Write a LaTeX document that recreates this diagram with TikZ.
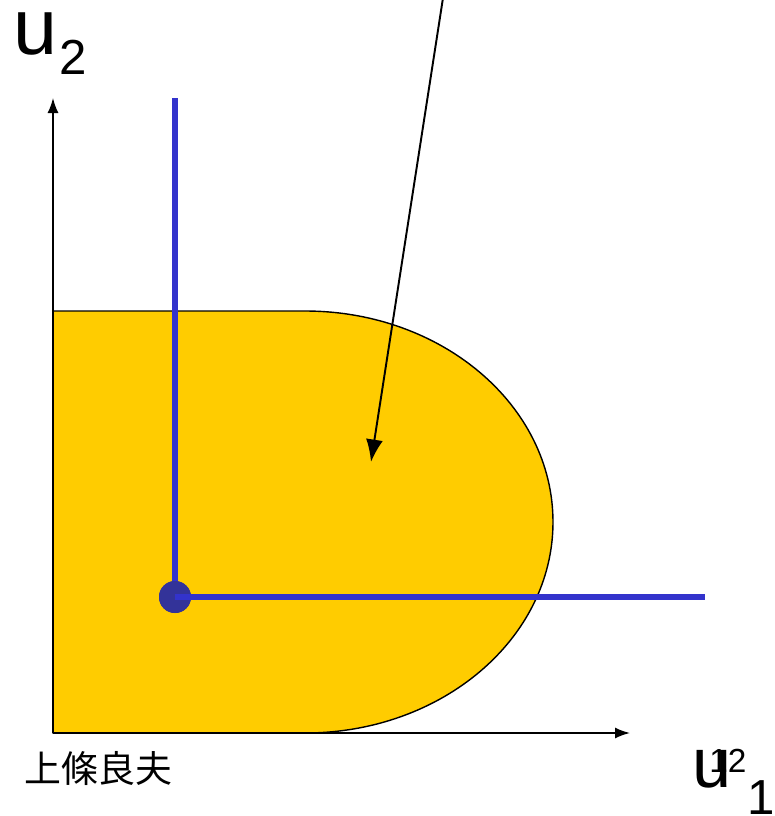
\documentclass[tikz,border=0pt]{standalone}
\usepackage{fontspec}
\setmainfont{Liberation Sans}
\newfontfamily\cjk{Noto Sans CJK JP}
\usetikzlibrary{arrows.meta,positioning,calc}
\definecolor{region}{HTML}{FFCC00}
\definecolor{kink}{HTML}{3333CC}
\definecolor{kinkdot}{HTML}{333399}
\tikzset{
  axis/.style={-{Latex[length=3mm,width=2.2mm]}, line width=0.9pt, draw=black},
  pointer/.style={-{Latex[length=4.5mm,width=3.4mm]}, line width=1.1pt, draw=black},
  bluebar/.style={draw=kink, line width=3.6pt},
  biglabel/.style={font=\fontsize{45}{48}\selectfont, inner sep=0pt, anchor=base west},
  sublabel/.style={font=\fontsize{28}{30}\selectfont, inner sep=0pt, anchor=base west},
  pagenum/.style={font=\fontsize{19}{20}\selectfont, inner sep=0pt, anchor=base west}
}
\begin{document}
\begin{tikzpicture}[x=0.02cm,y=-0.02cm]
        \useasboundingbox (0,0) rectangle (775,816);

        % feasible set
        \fill[region,draw=black,line width=0.8pt] (53,733) -- (53,311) -- (305,311)
             arc[start angle=-90,end angle=90,x radius=248,y radius=211] -- cycle;

        % axes
        \coordinate (orig) at (53,733);
        \coordinate (ytop) at (53,98);
        \coordinate (xend) at (630,733);
        \draw[axis] (orig) -- (ytop);
        \draw[axis] (orig) -- (xend);

        % disagreement point and its lines
        \coordinate (vtop) at (175,98);
        \coordinate (hend) at (705,597);
        \node[circle,fill=kinkdot,minimum size=0.64cm,inner sep=0pt] (d) at (175,597) {};
        \draw[bluebar] (d.center) -- (vtop);
        \node[circle,fill=kinkdot,minimum size=0.64cm,inner sep=0pt] at (d) {};
        \draw[bluebar] (d.center) -- (hend);

        % pointer from above
        \coordinate (ptop) at (443,-2);
        \coordinate (ptip) at (371,462);
        \draw[pointer] (ptop) -- (ptip);

        % labels
        \node[biglabel] (u2) at (13,54) {u};
        \node[sublabel] (u2sub) at (59,74) {2};
        \node[biglabel,font=\fontsize{40}{42}\selectfont] (u1) at (692,787) {u};
        \node[pagenum] (page) at (709,772) {12};
        \node[sublabel] (u1sub) at (747,814) {1};
        \node[inner sep=0pt,anchor=base west,font=\cjk\fontsize{21}{23}\selectfont] (name) at (24,782) {上條良夫};
      \end{tikzpicture}
\end{document}
